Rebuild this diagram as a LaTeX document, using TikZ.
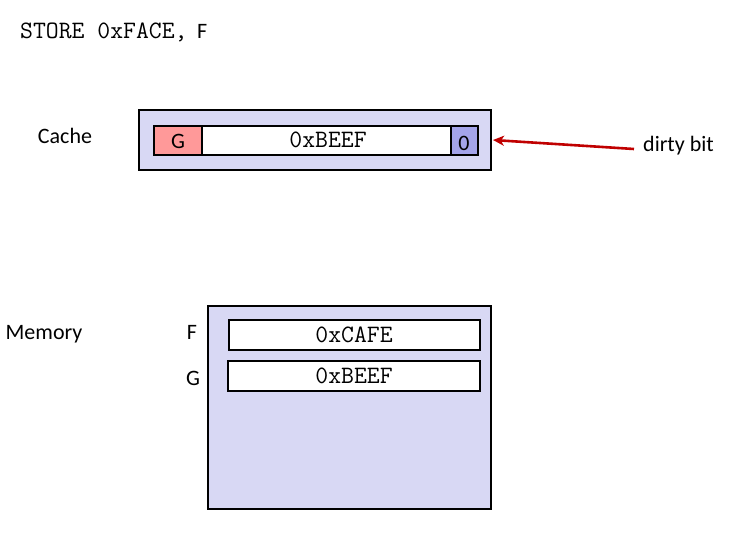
\documentclass[tikz,border=0pt]{standalone}
\usepackage{fontspec}
\newfontfamily\sansf{Carlito}
\usetikzlibrary{arrows.meta}
\definecolor{boxfill}{HTML}{D8D8F4}
\definecolor{tagfill}{HTML}{FF9999}
\definecolor{bitfill}{HTML}{A4A4EA}
\definecolor{arrowred}{HTML}{C00000}
\begin{document}
\begin{tikzpicture}[x=1pt,y=-1pt,
  outer/.style={draw=black,line width=2.8pt,fill=boxfill},
  cell/.style={draw=black,line width=2.4pt,fill=white},
  mono/.style={font=\fontsize{25}{27}\selectfont\ttfamily},
  sans/.style={font=\fontsize{22}{26}\selectfont\sansf}]
\useasboundingbox (0,0) rectangle (743,541);
% top text
\node[mono,anchor=base west,inner sep=0] (cmd) at (20,38) {STORE 0xFACE,};
\node[sans,anchor=base west,inner sep=0] (cmdf) at (197,38) {F};
% cache
\node[sans] (cachelbl) at (65,136) {Cache};
\draw[outer] (139,110) rectangle (491,170);
\coordinate (cacheR) at (493,140);
\draw[cell,fill=tagfill] (154,126) rectangle (202,155);
\draw[cell] (202,126) rectangle (451,155);
\draw[cell,fill=bitfill] (451,126) rectangle (478,155);
\node[sans] (tag) at (178,141) {G};
\node[mono] (cval) at (328,140) {0xBEEF};
\node[sans] (bit) at (464,143) {0};
% dirty bit
\node[sans,anchor=west,inner sep=0] (dirty) at (643,146) {dirty bit};
\draw[arrowred,line width=2.6pt,-{Stealth[length=11pt,width=10pt,inset=3pt]}] (634,149) -- (cacheR);
% memory
\node[sans] (memlbl) at (44,334) {Memory};
\draw[outer] (208,306) rectangle (491,509);
\draw[cell] (229,320) rectangle (480,350);
\draw[cell] (228,361) rectangle (480,391);
\node[sans] (flbl) at (192,332) {F};
\node[sans] (glbl) at (193,378) {G};
\node[mono] (fval) at (354,335) {0xCAFE};
\node[mono] (gval) at (354,376) {0xBEEF};
\end{tikzpicture}
\end{document}
